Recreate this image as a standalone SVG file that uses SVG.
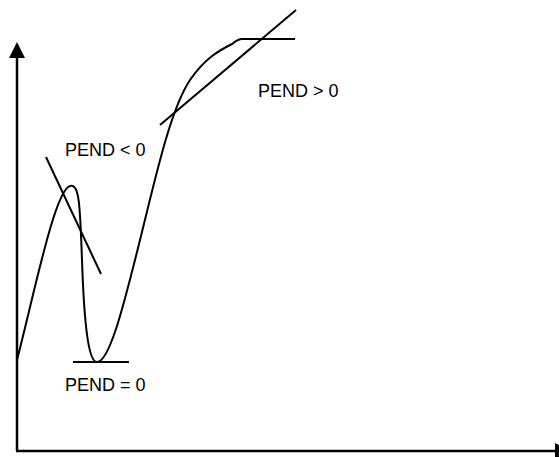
<svg xmlns="http://www.w3.org/2000/svg" width="559" height="457" viewBox="0 0 559 457">
<style>
.ln{fill:none;stroke:#000;stroke-width:2}
.ax{fill:none;stroke:#000;stroke-width:2.5}
.t{font-family:"Liberation Sans",Arial,sans-serif;font-size:18px;fill:#000}
</style>
<rect width="559" height="457" fill="#fff"/>
<g id="axes">
<line class="ax" x1="17" y1="451" x2="17" y2="56"/>
<polygon points="17,42 9,58 25,58" fill="#000"/>
<line class="ax" x1="16" y1="451" x2="556" y2="451"/>
<polygon points="555,443 555,459 571,451" fill="#000"/>
</g>
<g id="curve">
<path class="ln" d="M17,360 C35,290 55,190 70,186 C80,183 80,210 82,260 C84,320 88,362 97,362 C110,362 125,300 140,240 C155,180 170,110 190,80 C205,58 220,50 232,44 C236,41 238,39 242,39 L295,39"/>
</g>
<g id="tangents">
<line class="ln" x1="46" y1="157" x2="101" y2="274"/>
<line class="ln" x1="73" y1="362" x2="129" y2="362"/>
<line class="ln" x1="160" y1="125" x2="296" y2="10"/>
</g>
<g id="labels">
<text class="t" x="258" y="96.5">PEND &gt; 0</text>
<text class="t" x="65" y="155.5">PEND &lt; 0</text>
<text class="t" x="65" y="390.5">PEND = 0</text>
</g>
</svg>
